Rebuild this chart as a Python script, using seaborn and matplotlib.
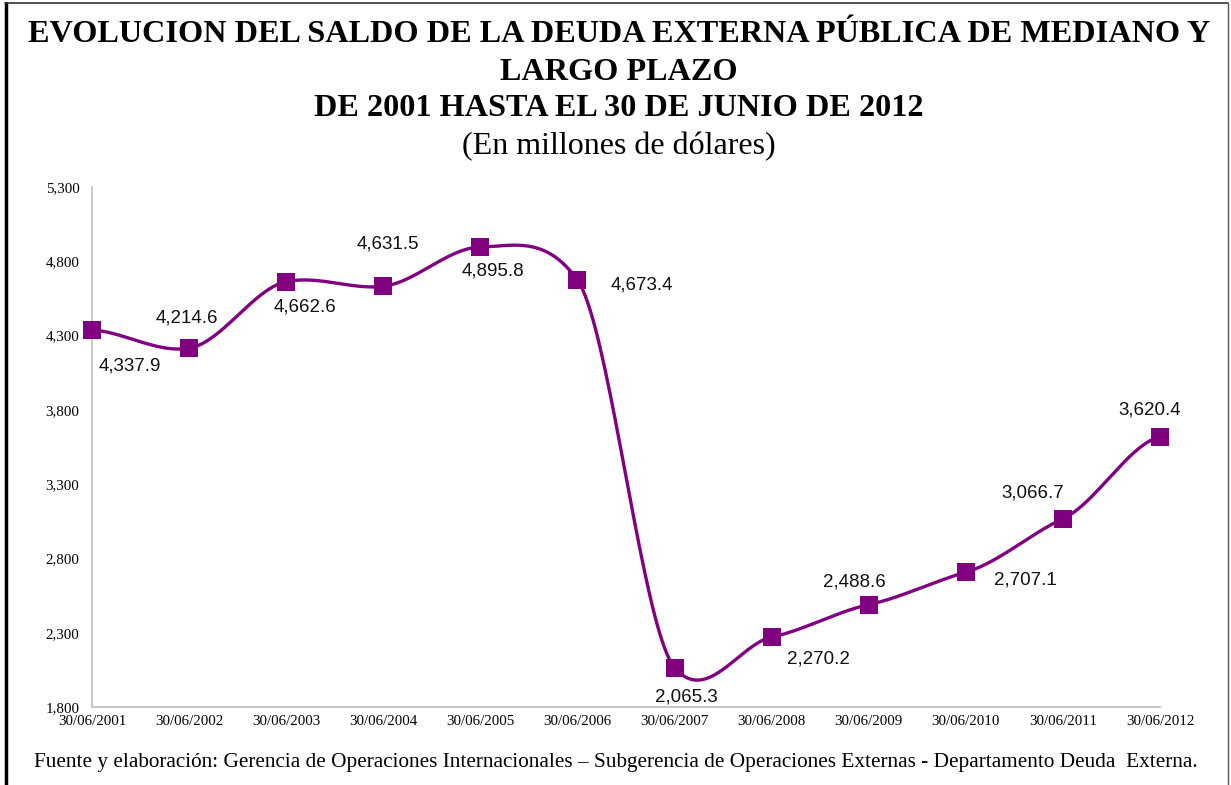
import numpy as np
import pandas as pd
import seaborn as sns
import matplotlib.pyplot as plt
from matplotlib.lines import Line2D
from matplotlib.ticker import FuncFormatter

fechas = ['30/06/2001', '30/06/2002', '30/06/2003', '30/06/2004', '30/06/2005', '30/06/2006',
          '30/06/2007', '30/06/2008', '30/06/2009', '30/06/2010', '30/06/2011', '30/06/2012']
saldo = [4337.9, 4214.6, 4662.6, 4631.5, 4895.8, 4673.4,
         2065.3, 2270.2, 2488.6, 2707.1, 3066.7, 3620.4]

# desplazamiento de cada etiqueta respecto al punto (pixeles)
offsets = [(38, -36), (-2, 30), (19, -25), (5, 42), (13, -24), (64, -5),
           (12, -29), (47, -22), (-14, 23), (60, -8), (-30, 26), (-10, 27)]

df = pd.DataFrame({'fecha': fechas, 'saldo': saldo})
df['pos'] = np.arange(len(df))

# linea suavizada tipo Excel (Hermite con tension reducida)
k = 0.65
y = df['saldo'].to_numpy()
n = len(y)
m = np.zeros(n)
m[1:-1] = k * (y[2:] - y[:-2]) / 2
m[0] = k * (y[1] - y[0]) / 2
m[-1] = k * (y[-1] - y[-2]) / 2
xs, ys = [], []
t = np.linspace(0, 1, 40)
for i in range(n - 1):
    h00 = 2 * t**3 - 3 * t**2 + 1
    h10 = t**3 - 2 * t**2 + t
    h01 = -2 * t**3 + 3 * t**2
    h11 = t**3 - t**2
    xs.extend(i + t)
    ys.extend(h00 * y[i] + h10 * m[i] + h01 * y[i + 1] + h11 * m[i + 1])
curva = pd.DataFrame({'x': xs, 'y': ys})

sns.set_style('white')
plt.rcParams['font.family'] = ['Liberation Serif', 'DejaVu Serif']
plt.rcParams['text.color'] = 'black'

morado = '#800080'
fig = plt.figure(figsize=(12.31, 7.85), dpi=100)
ax = fig.add_axes([0.0747, 0.0994, 0.8676, 0.6624])

sns.lineplot(data=curva, x='x', y='y', color=morado, linewidth=2.4, ax=ax, sort=False)
sns.scatterplot(data=df, x='pos', y='saldo', marker='s', s=150, color=morado,
                edgecolor=morado, linewidth=0, ax=ax, zorder=5, clip_on=False)

for (xp, yp), (dx, dy) in zip(zip(df['pos'], df['saldo']), offsets):
    ax.annotate(f'{yp:,.1f}', (xp, yp), xytext=(dx, dy), textcoords='offset pixels',
                ha='center', va='center', fontsize=13.5, family='Liberation Sans', color='#111111')

ax.set_xlim(0, n - 1)
ax.set_ylim(1800, 5300)
ax.set_yticks(np.arange(1800, 5301, 500))
ax.yaxis.set_major_formatter(FuncFormatter(lambda v, p: f'{v:,.0f}'))
ax.set_xticks(df['pos'])
ax.set_xticklabels(df['fecha'])
ax.set_xlabel('')
ax.set_ylabel('')
ax.tick_params(axis='both', labelsize=10.8, labelcolor='black', color='#bfbfbf', length=4, width=1)
ax.tick_params(axis='x', direction='in', length=3, pad=6)
ax.tick_params(axis='y', direction='out', pad=5)
for side in ['top', 'right']:
    ax.spines[side].set_visible(False)
for side in ['left', 'bottom']:
    ax.spines[side].set_color('#bfbfbf')
    ax.spines[side].set_linewidth(1.2)

fig.text(0.503, 1 - 35 / 785, 'EVOLUCION DEL SALDO DE LA DEUDA EXTERNA PÚBLICA DE MEDIANO Y',
         ha='center', va='center', fontsize=23.2, fontweight='bold')
fig.text(0.503, 1 - 72 / 785, 'LARGO PLAZO', ha='center', va='center', fontsize=23.2, fontweight='bold')
fig.text(0.503, 1 - 108 / 785, 'DE 2001 HASTA EL 30 DE JUNIO DE 2012',
         ha='center', va='center', fontsize=23.2, fontweight='bold')
fig.text(0.503, 1 - 147 / 785, '(En millones de dólares)', ha='center', va='center', fontsize=23)
fig.text(0.5, 1 - 763 / 785,
         'Fuente y elaboración: Gerencia de Operaciones Internacionales – Subgerencia de Operaciones Externas - Departamento Deuda  Externa.',
         ha='center', va='center', fontsize=15.3)

# marco de la figura
fig.add_artist(Line2D([6 / 1231, 6 / 1231], [0, 1 - 3 / 785], color='black', linewidth=2.5))
fig.add_artist(Line2D([5 / 1231, 1228 / 1231], [1 - 3 / 785, 1 - 3 / 785], color='#333333', linewidth=1.2))
fig.add_artist(Line2D([1228 / 1231, 1228 / 1231], [0, 1 - 3 / 785], color='#555555', linewidth=1))

fig.savefig('out.png', dpi=100)
